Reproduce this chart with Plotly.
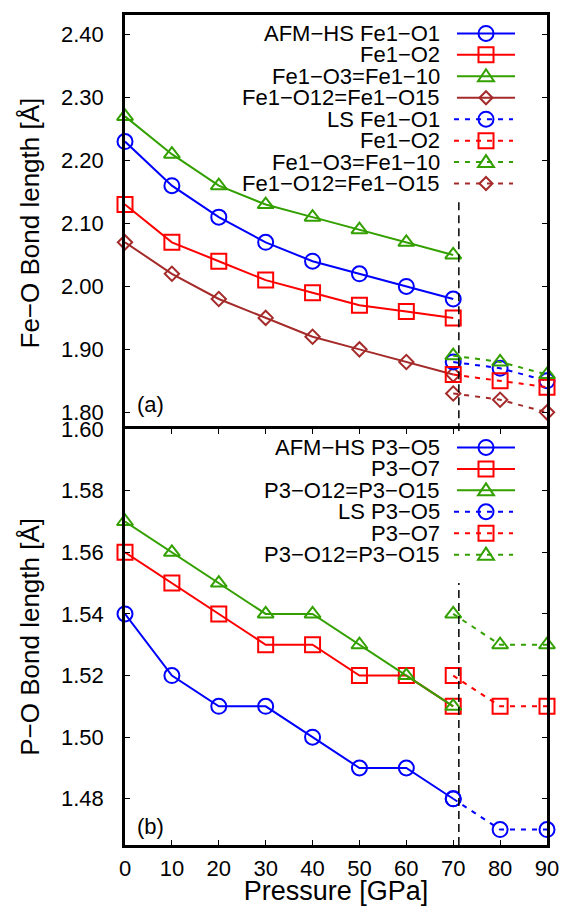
import plotly.graph_objects as go

# ---------------- data ----------------
pressure_hs = [0, 10, 20, 30, 40, 50, 60, 70]
pressure_ls = [70, 80, 90]

# panel (a): Fe-O bond lengths
fe_o1_hs = [2.23, 2.16, 2.11, 2.07, 2.04, 2.02, 2.00, 1.98]
fe_o2_hs = [2.13, 2.07, 2.04, 2.01, 1.99, 1.97, 1.96, 1.95]
fe_o3_hs = [2.27, 2.21, 2.16, 2.13, 2.11, 2.09, 2.07, 2.05]
fe_o12_hs = [2.07, 2.02, 1.98, 1.95, 1.92, 1.90, 1.88, 1.86]
fe_o1_ls = [1.88, 1.87, 1.85]
fe_o2_ls = [1.86, 1.85, 1.84]
fe_o3_ls = [1.89, 1.88, 1.86]
fe_o12_ls = [1.83, 1.82, 1.80]

# panel (b): P-O bond lengths
p_o5_hs = [1.54, 1.52, 1.51, 1.51, 1.50, 1.49, 1.49, 1.48]
p_o7_hs = [1.56, 1.55, 1.54, 1.53, 1.53, 1.52, 1.52, 1.51]
p_o12_hs = [1.57, 1.56, 1.55, 1.54, 1.54, 1.53, 1.52, 1.51]
p_o5_ls = [1.48, 1.47, 1.47]
p_o7_ls = [1.52, 1.51, 1.51]
p_o12_ls = [1.54, 1.53, 1.53]

labels_a = ["AFM\u2212HS Fe1\u2212O1", "Fe1\u2212O2", "Fe1\u2212O3=Fe1\u221210", "Fe1\u2212O12=Fe1\u2212O15",
            "LS Fe1\u2212O1", "Fe1\u2212O2", "Fe1\u2212O3=Fe1\u221210", "Fe1\u2212O12=Fe1\u2212O15"]
labels_b = ["AFM\u2212HS P3\u2212O5", "P3\u2212O7", "P3\u2212O12=P3\u2212O15",
            "LS P3\u2212O5", "P3\u2212O7", "P3\u2212O12=P3\u2212O15"]

x_ticks = [0, 10, 20, 30, 40, 50, 60, 70, 80, 90]
transition_pressure = 71.2
vline_top_a = 2.14
vline_top_b = 1.55

# ---------------- style ----------------
BLUE, RED, GREEN, BROWN = "#0000FF", "#FF0000", "#33A000", "#A52A2A"
FONT = "Liberation Sans, Arial, Helvetica, sans-serif"
DOT = "5px,6px"
W, H = 573, 906
ML, MR, MT, MB = 125, 26, 3, 61
PW, PH = W - ML - MR, H - MT - MB
LW = 2.5
HALF = (LW / 2) / PH

def px(xp):
    return (xp - ML) / PW

def py(yp):
    return (H - MB - yp) / PH

symbols = {"circle": ("circle-open", 15), "square": ("square-open", 15),
           "triangle": ("triangle-up-open", 14), "diamond": ("diamond-open", 11)}

fig = go.Figure()

def add(xv, yv, color, sym, dash, xa, ya):
    s, size = symbols[sym]
    fig.add_trace(go.Scatter(
        x=xv, y=yv, mode="lines+markers", xaxis=xa, yaxis=ya,
        line=dict(color=color, width=2, dash=dash),
        marker=dict(symbol=s, size=size, color=color, line=dict(color=color, width=2)),
        cliponaxis=False, showlegend=False))

series_a = [
    (pressure_hs, fe_o1_hs, BLUE, "circle", "solid"),
    (pressure_hs, fe_o2_hs, RED, "square", "solid"),
    (pressure_hs, fe_o3_hs, GREEN, "triangle", "solid"),
    (pressure_hs, fe_o12_hs, BROWN, "diamond", "solid"),
    (pressure_ls, fe_o1_ls, BLUE, "circle", DOT),
    (pressure_ls, fe_o2_ls, RED, "square", DOT),
    (pressure_ls, fe_o3_ls, GREEN, "triangle", DOT),
    (pressure_ls, fe_o12_ls, BROWN, "diamond", DOT),
]
series_b = [
    (pressure_hs, p_o5_hs, BLUE, "circle", "solid"),
    (pressure_hs, p_o7_hs, RED, "square", "solid"),
    (pressure_hs, p_o12_hs, GREEN, "triangle", "solid"),
    (pressure_ls, p_o5_ls, BLUE, "circle", DOT),
    (pressure_ls, p_o7_ls, RED, "square", DOT),
    (pressure_ls, p_o12_ls, GREEN, "triangle", DOT),
]
for xv, yv, c, s, d in series_a:
    add(xv, yv, c, s, d, "x", "y")
for xv, yv, c, s, d in series_b:
    add(xv, yv, c, s, d, "x2", "y2")

shapes = []
annotations = []

# transition dashed lines
shapes.append(dict(type="line", xref="x", yref="y", x0=transition_pressure, x1=transition_pressure,
                   y0=1.77, y1=vline_top_a, line=dict(color="black", width=1.5, dash="8px,5px")))
shapes.append(dict(type="line", xref="x2", yref="y2", x0=transition_pressure, x1=transition_pressure,
                   y0=1.465, y1=vline_top_b, line=dict(color="black", width=1.5, dash="8px,5px")))

# custom legend (gnuplot-style: text right-aligned, sample on the right)
def marker_shape(sym, xa, ya, color):
    base = dict(xref="paper", yref="paper", xsizemode="pixel", ysizemode="pixel",
                xanchor=xa, yanchor=ya, line=dict(color=color, width=2), layer="above")
    if sym == "circle":
        return dict(type="circle", x0=-7.5, x1=7.5, y0=-7.5, y1=7.5, **base)
    if sym == "square":
        return dict(type="rect", x0=-7.5, x1=7.5, y0=-7.5, y1=7.5, **base)
    if sym == "triangle":
        return dict(type="path", path="M -8,-5 L 8,-5 L 0,7 Z", **base)
    return dict(type="path", path="M -6.5,0 L 0,6.5 L 6.5,0 L 0,-6.5 Z", **base)

def legend(entries, labels, y_first):
    for i, ((_, _, c, s, d), lab) in enumerate(zip(entries, labels)):
        yrow = y_first + i * 21.75
        annotations.append(dict(text=lab, xref="paper", yref="paper", x=px(442), y=py(yrow),
                                xanchor="right", yanchor="middle", showarrow=False,
                                font=dict(family=FONT, size=22, color="black")))
        solid = d == "solid"
        shapes.append(dict(type="line", xref="paper", yref="paper",
                           x0=px(457 if solid else 454), x1=px(515 if solid else 513),
                           y0=py(yrow), y1=py(yrow), layer="above",
                           line=dict(color=c, width=2, dash=d)))
        shapes.append(marker_shape(s, px(486), py(yrow), c))

legend(series_a, labels_a, 21.7)
legend(series_b, labels_b, 441.7)

annotations.append(dict(text="(a)", xref="paper", yref="paper", x=px(150), y=py(398),
                        xanchor="center", yanchor="middle", showarrow=False,
                        font=dict(family=FONT, size=22, color="black")))
annotations.append(dict(text="(b)", xref="paper", yref="paper", x=px(150), y=py(826),
                        xanchor="center", yanchor="middle", showarrow=False,
                        font=dict(family=FONT, size=22, color="black")))

axis_common = dict(showline=True, linecolor="black", linewidth=LW, ticks="inside",
                   ticklen=5, tickwidth=1, tickcolor="black", showgrid=False, zeroline=False,
                   tickfont=dict(family=FONT, size=22, color="black"))

fig.update_layout(
    width=W, height=H, margin=dict(l=ML, r=MR, t=MT, b=MB),
    paper_bgcolor="white", plot_bgcolor="white", showlegend=False,
    xaxis=dict(domain=[0, 1], anchor="y", range=[0, 90], tickvals=x_ticks, showticklabels=False,
               mirror=True, **axis_common),
    yaxis=dict(domain=[0.5 - HALF, 1], anchor="x", range=[1.77, 2.431], tick0=1.8, dtick=0.1,
               tickformat=".2f", mirror="ticks", ticklabelstandoff=14,
               title=dict(text="Fe\u2212O Bond length [\u00c5]", standoff=14,
                          font=dict(family=FONT, size=26, color="black")),
               **axis_common),
    xaxis2=dict(domain=[0, 1], anchor="y2", range=[0, 90], tickvals=x_ticks, mirror="ticks",
                ticklabelstandoff=2,
                title=dict(text="Pressure [GPa]", standoff=2,
                           font=dict(family=FONT, size=27, color="black")),
                **axis_common),
    yaxis2=dict(domain=[0, 0.5 + HALF], anchor="x2", range=[1.465, 1.6001], tick0=1.48, dtick=0.02,
                tickformat=".2f", mirror="ticks", ticklabelstandoff=14,
                title=dict(text="P\u2212O Bond length [\u00c5]", standoff=14,
                           font=dict(family=FONT, size=26, color="black")),
                **axis_common),
    shapes=shapes, annotations=annotations,
)

fig.write_html("out.html", config={"displayModeBar": False},
               post_script="document.body.style.margin='0';document.body.style.padding='0';")
